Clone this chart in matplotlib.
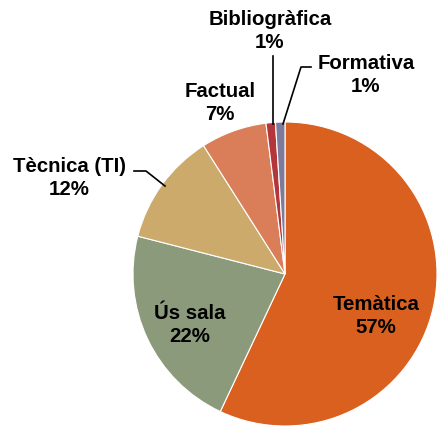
import matplotlib
matplotlib.use("Agg")
import matplotlib.pyplot as plt

labels = ["Temàtica", "Ús sala", "Tècnica (TI)", "Factual", "Bibliogràfica", "Formativa"]
values = [57, 22, 12, 7, 1, 1]
colors = ["#D9601E", "#8C9A7C", "#CCAA6C", "#D97E58", "#B3373A", "#7E7B9A"]

W, H = 437, 427
fig = plt.figure(figsize=(W/100, H/100), dpi=100)
ax = fig.add_axes([0, 0, 1, 1])

cx, cy, r = 285, H - 275, 152
ax.pie(values, colors=colors, startangle=90, counterclock=False,
       center=(cx, cy), radius=r, frame=True,
       wedgeprops=dict(edgecolor="white", linewidth=0.8))
ax.set_xlim(0, W)
ax.set_ylim(0, H)
ax.axis("off")

font = dict(family=["Liberation Sans", "DejaVu Sans"], fontweight="bold", fontsize=14.7,
            ha="center", va="center", linespacing=1.25)
pos = {
    "Temàtica": (376, 316),
    "Ús sala": (190, 325),
    "Tècnica (TI)": (69, 178),
    "Factual": (220, 103),
    "Bibliogràfica": (270, 31),
    "Formativa": (366, 75),
}
for lab, v in zip(labels, values):
    x, y = pos[lab]
    ax.text(x, H - y, f"{lab}\n{v}%", **font)

lw = 1.2
ax.plot([134, 146, 165], [H - 172, H - 172, H - 187], color="black", lw=lw)
ax.plot([273, 273], [H - 57, H - 125], color="black", lw=lw)
ax.plot([311, 301, 283], [H - 68, H - 68, H - 125], color="black", lw=lw)

fig.savefig("out.png", dpi=100)
